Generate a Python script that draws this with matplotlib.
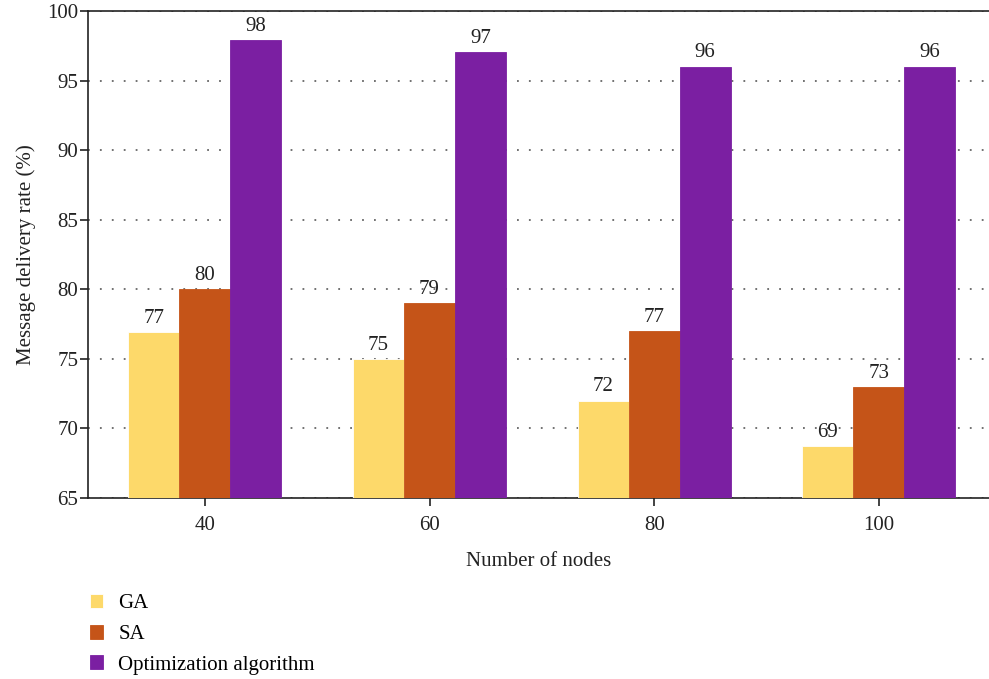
import numpy as np
import matplotlib
matplotlib.use("Agg")
import matplotlib.pyplot as plt

# data
nodes = ["40", "60", "80", "100"]
series_names = ["GA", "SA", "Optimization algorithm"]
ga = [76.95, 75.0, 72.0, 68.75]
sa = [80.0, 79.0, 77.0, 73.0]
opt = [97.9, 97.05, 96.0, 96.0]
ga_labels = ["77", "75", "72", "69"]
sa_labels = ["80", "79", "77", "73"]
opt_labels = ["98", "97", "96", "96"]
colors = ["#FDD96A", "#C55418", "#7B1FA2"]

plt.rcParams['font.family'] = ['Liberation Serif', 'DejaVu Serif']
fs = 15

fig = plt.figure(figsize=(9.89, 6.79), dpi=100)
ax = fig.add_axes([0.089, 0.2666, 0.911, 0.7172])

x = np.arange(len(nodes))
w = 0.227
all_vals = [ga, sa, opt]
all_labels = [ga_labels, sa_labels, opt_labels]
for i in range(3):
    bars = ax.bar(x + (i - 1) * w, all_vals[i], w, bottom=0, color=colors[i],
                  label=series_names[i], zorder=3,
                  edgecolor="white" if i == 0 else colors[i], linewidth=0.6)
    for b, lab in zip(bars, all_labels[i]):
        ax.annotate(lab, (b.get_x() + b.get_width() / 2, b.get_height()),
                    xytext=(0, 3), textcoords="offset points",
                    ha="center", va="bottom", fontsize=fs, color="#222222",
                    zorder=4)

ax.set_ylim(65, 100)
ax.set_xlim(-0.52, 3.49)
ax.set_yticks([65, 70, 75, 80, 85, 90, 95, 100])
ax.set_xticks(x)
ax.set_xticklabels(nodes)
ax.tick_params(labelsize=fs, colors="#222222", length=6, width=1.2)
ax.tick_params(axis="x", pad=7)
ax.tick_params(axis="y", pad=1)

ax.yaxis.grid(True, linestyle=(0, (1, 5.6)), color="#666666", linewidth=1.3, zorder=0)
ax.spines["right"].set_visible(False)
for s in ["left", "bottom", "top"]:
    ax.spines[s].set_linewidth(1.2)
    ax.spines[s].set_color("#222222")

ax.set_ylabel("Message delivery rate (%)", fontsize=fs, color="#222222", labelpad=8)
ax.set_xlabel("Number of nodes", fontsize=fs, color="#222222", labelpad=12)

fig.legend(loc="upper left", bbox_to_anchor=(0.0825, 0.1375),
           frameon=False, fontsize=fs, handlelength=0.65, handleheight=0.65,
           labelspacing=0.55, handletextpad=0.72, borderaxespad=0)

fig.savefig("out.png", dpi=100)
